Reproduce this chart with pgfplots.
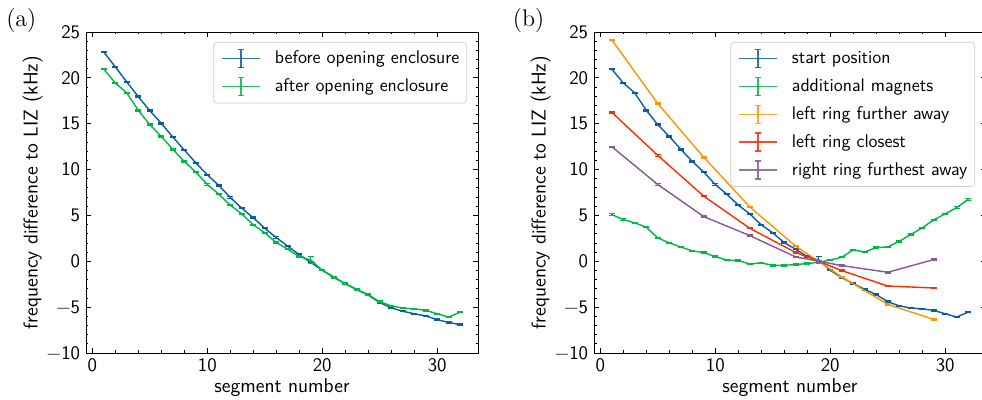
\documentclass[border=0pt]{standalone}
\usepackage{pgfplots}
\usepackage{pgfplotstable}
\pgfplotsset{compat=1.18}
\definecolor{cB}{HTML}{0C5DA5}
\definecolor{cG}{HTML}{00B945}
\definecolor{cO}{HTML}{FF9500}
\definecolor{cR}{HTML}{FF2C00}
\definecolor{cP}{HTML}{845B97}

% segment, value, error
\pgfplotstableread{
x y e
1 22.80 0.07
2 21.20 0.07
3 19.55 0.07
4 17.95 0.07
5 16.42 0.07
6 15.04 0.07
7 13.55 0.07
8 12.13 0.07
9 10.74 0.07
10 9.43 0.07
11 8.27 0.07
12 6.96 0.07
13 5.79 0.07
14 4.75 0.07
15 3.60 0.07
16 2.59 0.07
17 1.64 0.07
18 0.73 0.07
19 -0.12 0.07
20 -0.98 0.07
21 -1.71 0.07
22 -2.44 0.07
23 -3.09 0.07
24 -3.68 0.07
25 -4.50 0.07
26 -5.08 0.07
27 -5.45 0.07
28 -5.72 0.07
29 -5.95 0.07
30 -6.37 0.07
31 -6.68 0.07
32 -6.90 0.07
}\before

\pgfplotstableread{
x y e
1 20.94 0.07
2 19.44 0.07
3 18.35 0.07
4 16.46 0.07
5 14.89 0.07
6 13.62 0.07
7 12.20 0.07
8 10.89 0.07
9 9.72 0.07
10 8.37 0.07
11 7.32 0.07
12 6.12 0.07
13 5.17 0.07
14 3.97 0.07
15 3.10 0.07
16 2.04 0.07
17 1.31 0.07
18 0.51 0.07
19 0.14 0.35
20 -0.98 0.07
21 -1.78 0.07
22 -2.44 0.07
23 -3.06 0.07
24 -3.64 0.07
25 -4.40 0.07
26 -4.86 0.07
27 -5.10 0.07
28 -5.19 0.07
29 -5.35 0.07
30 -5.72 0.07
31 -6.08 0.07
32 -5.55 0.07
}\after

\pgfplotstableread{
x y e
1 5.10 0.07
2 4.55 0.07
3 4.19 0.07
4 3.71 0.07
5 2.55 0.07
6 2.00 0.07
7 1.56 0.07
8 1.13 0.07
9 0.95 0.07
10 0.51 0.07
11 0.14 0.07
12 0.07 0.07
13 -0.29 0.07
14 -0.18 0.07
15 -0.44 0.07
16 -0.44 0.07
17 -0.36 0.07
18 -0.25 0.07
19 -0.11 0.07
20 0.14 0.07
21 0.44 0.07
22 1.24 0.07
23 1.02 0.07
24 1.49 0.07
25 1.56 0.07
26 2.18 0.07
27 2.91 0.07
28 3.64 0.07
29 4.52 0.07
30 5.17 0.07
31 5.86 0.07
32 6.74 0.07
}\magnets

\pgfplotstableread{
x y e
1 24.14 0.07
5 17.19 0.07
9 11.33 0.07
13 5.93 0.07
17 1.64 0.07
19 0.00 0.07
21 -1.70 0.07
25 -4.70 0.07
29 -6.34 0.07
}\leftfar

\pgfplotstableread{
x y e
1 16.24 0.07
5 11.54 0.07
9 7.10 0.07
13 3.60 0.07
17 0.95 0.07
19 0.00 0.07
21 -1.02 0.07
25 -2.70 0.07
29 -2.91 0.07
}\leftclose

\pgfplotstableread{
x y e
1 12.49 0.07
5 8.37 0.07
9 4.87 0.07
13 2.80 0.07
17 0.47 0.07
19 0.00 0.07
21 -0.47 0.07
25 -1.20 0.07
29 0.18 0.07
}\rightfar

\pgfplotsset{
  sci/.style={
    scale only axis, width=235.2pt, height=192.6pt, clip=false,
    xmin=-0.55, xmax=33.55, ymin=-10, ymax=25,
    xtick={0,10,20,30}, xticklabels={0,10,20,30},
    ytick={-10,-5,0,5,10,15,20,25},
    yticklabels={−10,−5,0,5,10,15,20,25},
    minor x tick num=4, minor y tick num=4,
    xtick pos=both, ytick pos=both, tick align=inside,
    major tick length=3pt, minor tick length=1.5pt,
    every tick/.style={black, line width=0.5pt},
    axis line style={line width=0.5pt},
    font=\sffamily\fontsize{12}{14}\selectfont,
    tick label style={font=\sffamily\fontsize{11.5}{13}\selectfont},
    xlabel={segment number}, ylabel={frequency difference to LIZ (kHz)},
    every axis x label/.style={at={(axis description cs:0.5,-0.109)}, anchor=center},
    every axis y label/.style={at={(axis description cs:-0.136,0.5)}, rotate=90, anchor=center},
    legend cell align=left,
    legend style={at={(1,1)}, xshift=-6.6pt, yshift=-6pt, anchor=north east,
      draw=black!20, rounded corners=2pt, fill=white, fill opacity=0.8, text opacity=1,
      font=\sffamily\fontsize{11}{13}\selectfont, row sep=5pt, column sep=8.6pt,
      inner xsep=4.4pt, inner ysep=4pt,
      nodes={inner xsep=0pt, inner ysep=0pt}},
    legend image code/.code={
      \draw[##1, line width=0.9pt, opacity=0.85] (0pt,0pt) -- (22.8pt,0pt);
      \draw[##1, line width=0.9pt, opacity=0.85] (11.4pt,-5.4pt) -- (11.4pt,5.4pt);
      \draw[##1, line width=0.9pt, opacity=0.85] (9.6pt,-5.4pt) -- (13.2pt,-5.4pt);
      \draw[##1, line width=0.9pt, opacity=0.85] (9.6pt,5.4pt) -- (13.2pt,5.4pt);
    },
  },
  dat/.style={#1, mark=none, line width=0.85pt,
    error bars/.cd, y dir=both, y explicit, error mark=|,
    error bar style={line width=0.7pt},
    error mark options={mark size=1.8pt, line width=0.7pt}},
}

\begin{document}
\begin{tikzpicture}
\useasboundingbox (-51.6pt,-28.2pt) rectangle (537.6pt,211.8pt);
\begin{axis}[sci, at={(0pt,0pt)}, anchor=south west]
\addplot[dat=cB] table[x=x, y=y, y error=e] {\before};
\addlegendentry{before opening enclosure}
\addplot[dat=cG] table[x=x, y=y, y error=e] {\after};
\addlegendentry{after opening enclosure}
\node[font=\rmfamily\fontsize{14.4}{16}\selectfont] at (axis description cs:-0.165,1.037) {(a)};
\end{axis}
\begin{axis}[sci, at={(304.8pt,0pt)}, anchor=south west]
\addplot[dat=cB] table[x=x, y=y, y error=e] {\after};
\addlegendentry{start position}
\addplot[dat=cG] table[x=x, y=y, y error=e] {\magnets};
\addlegendentry{additional magnets}
\addplot[dat=cO] table[x=x, y=y, y error=e] {\leftfar};
\addlegendentry{left ring further away}
\addplot[dat=cR] table[x=x, y=y, y error=e] {\leftclose};
\addlegendentry{left ring closest}
\addplot[dat=cP] table[x=x, y=y, y error=e] {\rightfar};
\addlegendentry{right ring furthest away}
\node[font=\rmfamily\fontsize{14.4}{16}\selectfont] at (axis description cs:-0.167,1.037) {(b)};
\end{axis}
\end{tikzpicture}
\end{document}
